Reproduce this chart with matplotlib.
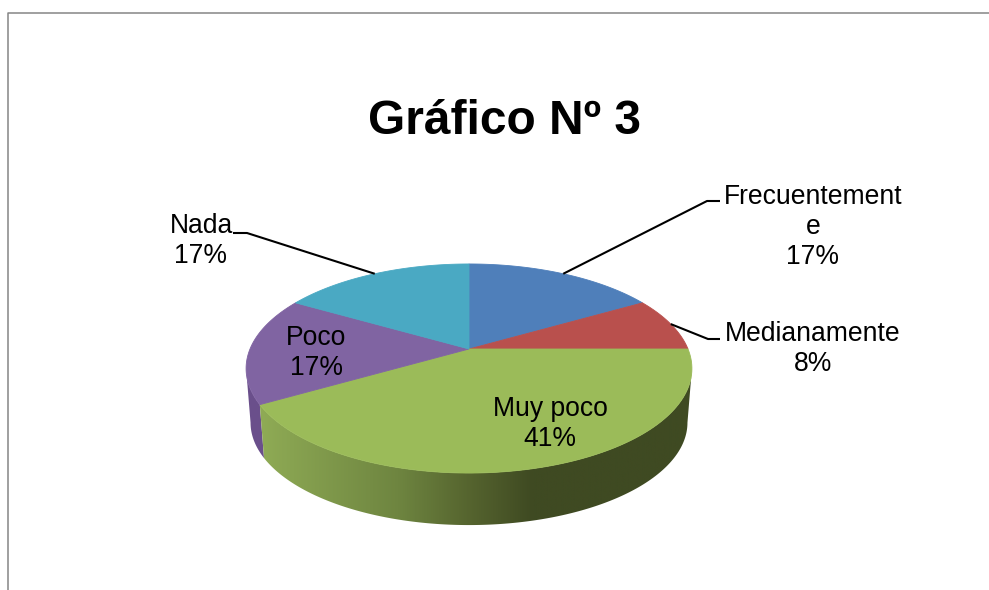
import numpy as np
import matplotlib
matplotlib.use("Agg")
import matplotlib.pyplot as plt
from matplotlib.colors import LinearSegmentedColormap

plt.rcParams['font.family'] = ['Liberation Sans', 'DejaVu Sans']

categorias = ['Frecuentemente', 'Medianamente', 'Muy poco', 'Poco', 'Nada']
frecuencias = [2, 1, 5, 2, 2]
colores = ['#4f7fba', '#b9504d', '#9bbb59', '#8064a2', '#4aa9c3']
color_lado_poco = '#6a4f8b'
titulo = 'Gráfico Nº 3'
etiquetas = ['Frecuentement\ne\n17%', 'Medianamente\n8%', 'Muy poco\n41%', 'Poco\n17%', 'Nada\n17%']

# Geometria de la tarta en perspectiva (pixeles de la figura)
CX, CY = 469, 349
ESC_X, ESC_Y = 219, 100.9
PERSP = 0.1866
ESC_BASE = 0.98
DESP_BASE = 54.5


def proyectar(theta):
    """Angulo en sentido horario desde arriba -> punto del borde superior"""
    u, v = np.sin(theta), np.cos(theta)
    d = 1 + PERSP * v
    return CX + ESC_X * u / d, CY - ESC_Y * v / d


def proyectar_base(theta):
    x, y = proyectar(theta)
    return CX + (x - CX) * ESC_BASE, CY + DESP_BASE + (y - CY) * ESC_BASE


def banda_lateral(t0, t1):
    """Contorno de la pared lateral entre dos angulos"""
    t = np.linspace(t0, t1, 200)
    xs, ys = proyectar(t)
    xb, yb = proyectar_base(t)
    return np.r_[xs, xb[::-1]], np.r_[ys, yb[::-1]]


fig = plt.figure(figsize=(9.89, 5.9), dpi=100)
ax = fig.add_axes([0, 0, 1, 1])

# Marco cortado del grafico
ax.plot([7.5, 7.5, 989], [590, 12.5, 12.5], color='#858585', lw=1.1, solid_capstyle='butt')

limites = np.concatenate([[0], np.cumsum(frecuencias)]) / sum(frecuencias) * 2 * np.pi
medios = (limites[:-1] + limites[1:]) / 2

# Angulo donde la perspectiva da el borde mas ancho (silueta)
silueta = np.arccos(-PERSP)

# Lado del sector Poco (solo se ve un poco a la izquierda)
x, y = banda_lateral(limites[3], 2 * np.pi - silueta)
ax.fill(x, y, color=color_lado_poco, lw=0, zorder=1)

# Lado del sector Muy poco con degradado
mapa = LinearSegmentedColormap.from_list('lado', [
    (0.0, '#8fab55'), (0.32, '#6e8540'), (0.48, '#56652f'), (0.63, '#3f4a22'), (1.0, '#3f4a22')])
x, y = banda_lateral(silueta, limites[3])
parche = ax.fill(x, y, color='none', lw=0, zorder=2)[0]
degradado = ax.imshow(np.linspace(0, 1, 512).reshape(1, -1), cmap=mapa, aspect='auto',
                      extent=(260, 692, 540, 340), zorder=2, vmin=0, vmax=1)
degradado.set_clip_path(parche)

# Cara superior
for i, color in enumerate(colores):
    t = np.linspace(limites[i], limites[i + 1], 120)
    x, y = proyectar(t)
    ax.fill(np.r_[CX, x], np.r_[CY, y], facecolor=color, edgecolor=color, lw=0.6, zorder=3)

# Lineas guia desde el punto medio de cada sector
codos = {0: [(707, 201), (720, 201)], 1: [(708, 339), (720, 339)], 4: [(247, 233), (233, 233)]}
for i, puntos in codos.items():
    x0, y0 = proyectar(medios[i])
    ax.plot([x0] + [p[0] for p in puntos], [y0] + [p[1] for p in puntos],
            color='black', lw=1.5, zorder=4, solid_capstyle='butt')

ax.text(505, 121, titulo, fontsize=34.5, fontweight='bold', ha='center', va='center', color='black')

pos_etiquetas = [(813, 227), (813, 349), (550, 424), (316, 353), (201, 241)]
for texto, (x, y) in zip(etiquetas, pos_etiquetas):
    ax.text(x, y, texto, fontsize=19.1, ha='center', va='center', color='black',
            linespacing=1.22, zorder=5)

ax.set_xlim(0, 989)
ax.set_ylim(590, 0)
ax.axis('off')

fig.savefig('out.png', dpi=100)
